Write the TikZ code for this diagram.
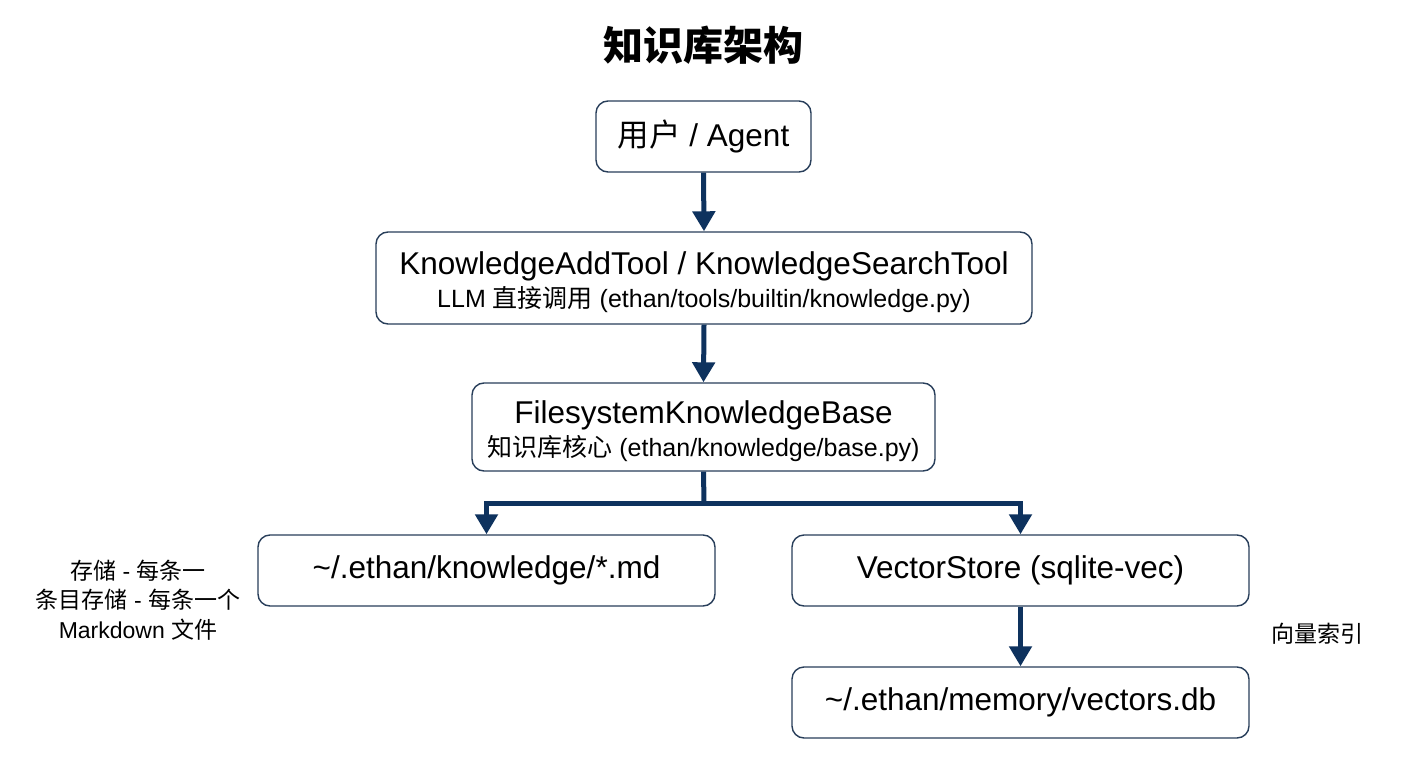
\documentclass[tikz,border=0pt]{standalone}
\usepackage{fontspec}
\setmainfont{Liberation Sans}
\newfontfamily\cjk{Noto Sans CJK SC}
\usetikzlibrary{arrows.meta}
\definecolor{navy}{RGB}{14,50,94}
\definecolor{boxline}{RGB}{40,62,90}
\tikzset{
  box/.style={draw=boxline, line width=1.4pt, rounded corners=12pt, fill=white, align=center, inner sep=0pt},
  conn/.style={draw=navy, line width=5pt},
  arr/.style={conn, -{Triangle[width=22pt,length=20pt]}},
  big/.style={font=\fontsize{31.5}{36}\selectfont},
  side/.style={font=\fontsize{23}{29.5}\selectfont, align=center},
}
\begin{document}
\begin{tikzpicture}[x=1pt,y=-1pt]
\fill[white] (0,0) rectangle (1408,768);
\useasboundingbox (0,0) rectangle (1408,768);
\node (title) at (703,45) {\fontsize{40}{46}\selectfont\cjk\bfseries 知识库架构};
\node[box, big, minimum width=215pt, minimum height=71pt] (b1) at (703.5,136.5)
  {\rule{0pt}{26pt}{\cjk 用户} / Agent};
\node[box, minimum width=656pt, minimum height=92pt] (b2) at (704,278)
  {\fontsize{31.5}{36}\selectfont\rule{0pt}{31pt}KnowledgeAddTool / KnowledgeSearchTool\\[5pt]
   \fontsize{25}{28}\selectfont LLM {\cjk 直接调用} (ethan/tools/builtin/knowledge.py)};
\node[box, minimum width=463pt, minimum height=88pt] (b3) at (703.5,427)
  {\fontsize{31.5}{36}\selectfont\rule{0pt}{31pt}FilesystemKnowledgeBase\\[5pt]
   \fontsize{25}{28}\selectfont {\cjk 知识库核心} (ethan/knowledge/base.py)};
\node[box, big, minimum width=457pt, minimum height=71pt] (b4) at (486.5,570.5)
  {\textasciitilde/.ethan/knowledge/*.md};
\node[box, big, minimum width=457pt, minimum height=71pt] (b5) at (1020.5,570.5)
  {VectorStore (sqlite-vec)};
\node[box, big, minimum width=457pt, minimum height=71pt] (b6) at (1020.5,702.5)
  {\textasciitilde/.ethan/memory/vectors.db};
\node[side] (lab1) at (138,600) {{\cjk 存储} - {\cjk 每条一}\\{\cjk 条目存储} - {\cjk 每条一个}\\Markdown {\cjk 文件}};
\node[side] (lab2) at (1317,634) {\cjk 向量索引};
\coordinate (j) at (704,503);
\draw[arr] (b1.south) -- (b2.north);
\draw[arr] (b2.south) -- (b3.north);
\draw[conn] (b3.south) -- (j);
\draw[arr] (j) -| (b4.north);
\draw[arr] (j) -| (b5.north);
\draw[arr] (b5.south) -- (b6.north);
\end{tikzpicture}
\end{document}
